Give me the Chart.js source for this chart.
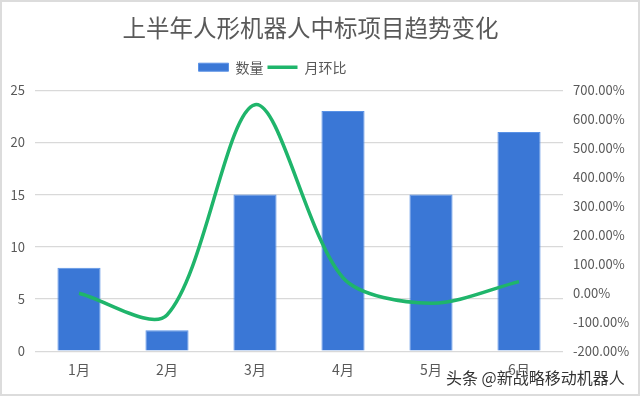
<!DOCTYPE html>
<html><head><meta charset="utf-8">
<script src="https://cdn.jsdelivr.net/npm/chart.js@4"></script>
<style>
html,body{margin:0;padding:0;background:#fff;}
#wrap{position:relative;width:636px;height:392px;border:2px solid #dcdcdc;background:#fff;}
#c{display:block;}
#wm{position:absolute;left:444px;top:363px;font:16px "Noto Sans CJK SC",sans-serif;color:#333;text-shadow:0 0 2px #fff,0 0 2px #fff;}
</style></head>
<body>
<div id="wrap"><canvas id="c" width="636" height="392"></canvas>
<div id="wm">头条 @新战略移动机器人</div></div>
<script>
const categories = ['1月','2月','3月','4月','5月','6月'];
const counts = [8, 2, 15, 23, 15, 21];
const momPct = [0, -75, 650, 53.33, -34.78, 40];
const leftTicks = [0,5,10,15,20,25];
const rightTicks = [-200,-100,0,100,200,300,400,500,600,700];

const FONT = '"Noto Sans CJK SC","Noto Sans",sans-serif';
const tweak = {
  id:'tweak',
  beforeInit(chart){
    const lg = chart.legend;
    if (lg) { const fit = lg.fit; lg.fit = function(){ fit.call(this); this.height += 6; }; }
  },
  afterLayout(chart){
    const lg = chart.legend;
    if (lg) { lg.left -= 46; lg.right -= 46; }
    const t = chart.titleBlock;
    if (t) { t.left -= 8; t.right -= 8; }
  }
};
new Chart(document.getElementById('c'), {
  data: {
    labels: categories,
    datasets: [
      { type:'line', label:'月环比', data: momPct, yAxisID:'y1', borderColor:'#1fb56b', backgroundColor:'#1fb56b',
        borderWidth:3.5, tension:0.3, pointRadius:0, pointStyle:'line', order:0 },
      { type:'bar', label:'数量', data: counts, yAxisID:'y', backgroundColor:'#3a77d6', borderColor:'#5a92e6', borderWidth:1,
        barPercentage:0.49, categoryPercentage:1, pointStyle:'rect', order:1 }
    ]
  },
  plugins:[tweak],
  options: {
    responsive:false, animation:false,
    layout:{padding:{left:0,right:3,top:0,bottom:14}},
    plugins:{
      title:{display:true, text:'上半年人形机器人中标项目趋势变化', color:'#595959', font:{family:FONT,size:23.5,weight:'normal'}, padding:{top:12,bottom:14}},
      legend:{display:true, position:'top', reverse:true,
        labels:{usePointStyle:true, pointStyleWidth:30, boxHeight:8, color:'#595959', font:{family:FONT,size:14}, padding:4}},
      tooltip:{enabled:false}
    },
    scales:{
      x:{ grid:{display:false}, border:{display:false},
        ticks:{color:'#595959', font:{family:FONT,size:14}, padding:2}},
      y:{ position:'left', min:0, max:25, afterBuildTicks:(a)=>{a.ticks=leftTicks.map(v=>({value:v}));},
        grid:{color:'#d9d9d9', lineWidth:1.2, drawTicks:false}, border:{display:false},
        ticks:{color:'#595959', font:{family:FONT,size:13}, padding:10},
        afterFit:(s)=>{s.width=33;} },
      y1:{ position:'right', min:-200, max:700, afterBuildTicks:(a)=>{a.ticks=rightTicks.map(v=>({value:v}));},
        grid:{display:false, drawTicks:false}, border:{display:false},
        ticks:{color:'#595959', font:{family:FONT,size:13}, padding:10, callback:(v)=>v.toFixed(2)+'%'},
        afterFit:(s)=>{s.width=72;} }
    }
  }
});
</script>
</body></html>
